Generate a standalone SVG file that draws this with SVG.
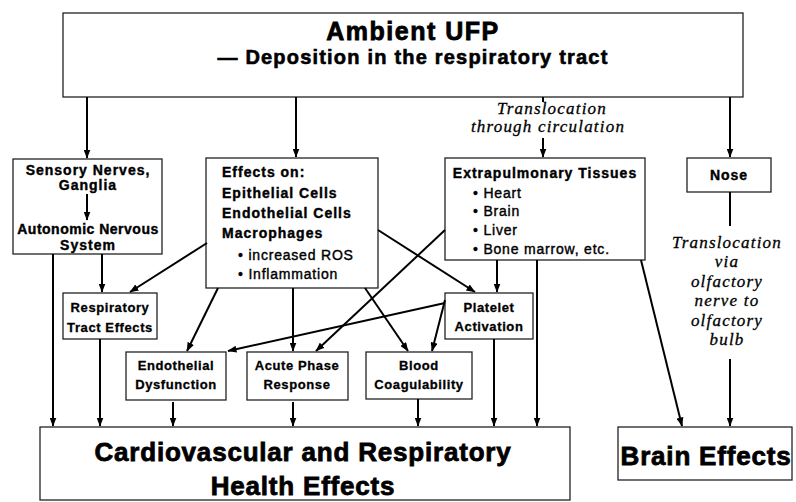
<svg xmlns="http://www.w3.org/2000/svg" width="796" height="502" viewBox="0 0 796 502">
<defs>
<marker id="ah" markerWidth="9" markerHeight="7" refX="8.5" refY="3.5" orient="auto" markerUnits="userSpaceOnUse"><path d="M0,0 L9,3.5 L0,7 z" fill="#000"/></marker>
</defs>
<style>
.box{fill:#fff;stroke:#222;stroke-width:1.3}
.c{stroke:#000;stroke-width:2;fill:none}
.a{marker-end:url(#ah)}
text{font-family:"Liberation Sans",Arial,sans-serif;fill:#000}
.h1{font-size:25px;font-weight:bold;letter-spacing:1.5px;stroke:#000;stroke-width:0.8}
.h2{font-size:20px;font-weight:bold;letter-spacing:1.2px;stroke:#000;stroke-width:0.6}
.m{font-size:14px;font-weight:bold;letter-spacing:1px;stroke:#000;stroke-width:0.4}
.s{font-size:13px;font-weight:bold;letter-spacing:0.6px;stroke:#000;stroke-width:0.3}
.bl{font-size:14px;letter-spacing:0.8px;stroke:#000;stroke-width:0.4}
.big{font-size:26px;font-weight:bold;letter-spacing:0.8px;stroke:#000;stroke-width:0.8}
.it{font-family:"Liberation Serif",serif;font-style:italic;font-size:17px;letter-spacing:1.2px;stroke:#000;stroke-width:0.3}
.mid{text-anchor:middle}
</style>
<rect width="796" height="502" fill="#fff"/>

<g id="ambient-ufp">
<rect class="box" x="63" y="13" width="680" height="84"/>
<text class="h1 mid" x="413" y="40">Ambient UFP</text>
<text class="h2 mid" x="413" y="64">— Deposition in the respiratory tract</text>
</g>

<g id="sensory-nerves">
<rect class="box" x="13" y="159" width="149" height="95"/>
<text class="m mid" x="88" y="175">Sensory Nerves,</text>
<text class="m mid" x="88" y="190">Ganglia</text>
<text class="m mid" x="88" y="234" style="letter-spacing:0.5px">Autonomic Nervous</text>
<text class="m mid" x="88" y="250">System</text>
</g>

<g id="effects-on">
<rect class="box" x="206" y="158" width="172" height="130"/>
<text class="m" x="222" y="177">Effects on:</text>
<text class="m" x="222" y="198">Epithelial Cells</text>
<text class="m" x="222" y="218">Endothelial Cells</text>
<text class="m" x="222" y="238">Macrophages</text>
<text class="bl" x="238" y="260">• increased ROS</text>
<text class="bl" x="238" y="279">• Inflammation</text>
</g>

<g id="extrapulmonary">
<rect class="box" x="445" y="158" width="200" height="102"/>
<text class="m mid" x="545" y="178">Extrapulmonary Tissues</text>
<text class="bl" x="473" y="198">• Heart</text>
<text class="bl" x="473" y="216">• Brain</text>
<text class="bl" x="473" y="235">• Liver</text>
<text class="bl" x="473" y="254">• Bone marrow, etc.</text>
</g>

<g id="nose">
<rect class="box" x="687" y="158" width="84" height="34"/>
<text class="m mid" x="729" y="180">Nose</text>
</g>

<g id="olfactory-label">
<text class="it mid" x="727" y="248">Translocation</text>
<text class="it mid" x="727" y="267">via</text>
<text class="it mid" x="727" y="287">olfactory</text>
<text class="it mid" x="727" y="306">nerve to</text>
<text class="it mid" x="727" y="326">olfactory</text>
<text class="it mid" x="727" y="345">bulb</text>
</g>

<g id="circulation-label">
<text class="it mid" x="552" y="114">Translocation</text>
<text class="it mid" x="548" y="132">through circulation</text>
</g>

<g id="respiratory-tract">
<rect class="box" x="63" y="293" width="94" height="46"/>
<text class="s mid" x="110" y="312">Respiratory</text>
<text class="s mid" x="110" y="332">Tract Effects</text>
</g>

<g id="platelet">
<rect class="box" x="445" y="293" width="88" height="46"/>
<text class="s mid" x="489" y="312">Platelet</text>
<text class="s mid" x="489" y="331">Activation</text>
</g>

<g id="endothelial">
<rect class="box" x="126" y="352" width="100" height="48"/>
<text class="s mid" x="176" y="370">Endothelial</text>
<text class="s mid" x="176" y="389">Dysfunction</text>
</g>

<g id="acute-phase">
<rect class="box" x="247" y="352" width="101" height="48"/>
<text class="s mid" x="297" y="370">Acute Phase</text>
<text class="s mid" x="297" y="389">Response</text>
</g>

<g id="blood">
<rect class="box" x="366" y="352" width="106" height="47"/>
<text class="s mid" x="419" y="370">Blood</text>
<text class="s mid" x="419" y="389">Coagulability</text>
</g>

<g id="cardio">
<rect class="box" x="40" y="427" width="530" height="73"/>
<text class="big mid" x="303" y="461">Cardiovascular and Respiratory</text>
<text class="big mid" x="303" y="495">Health Effects</text>
</g>

<g id="brain-effects">
<rect class="box" x="618" y="427" width="174" height="53"/>
<text class="big mid" x="706" y="465">Brain Effects</text>
</g>

<g id="connectors">
<line class="c a" x1="87" y1="97" x2="87" y2="158"/>
<line class="c a" x1="296" y1="97" x2="296" y2="157"/>
<line class="c" x1="543" y1="97" x2="543" y2="102"/>
<line class="c a" x1="543" y1="138" x2="543" y2="157"/>
<line class="c a" x1="730" y1="97" x2="730" y2="157"/>
<line class="c a" x1="87" y1="194" x2="87" y2="220"/>
<line class="c a" x1="53" y1="254" x2="53" y2="426"/>
<line class="c a" x1="102" y1="254" x2="102" y2="292"/>
<line class="c a" x1="100" y1="339" x2="100" y2="426"/>
<line class="c a" x1="207" y1="243" x2="130" y2="292"/>
<line class="c a" x1="218" y1="288" x2="187" y2="351"/>
<line class="c a" x1="293" y1="288" x2="293" y2="351"/>
<line class="c a" x1="365" y1="288" x2="408" y2="351"/>
<line class="c a" x1="378" y1="230" x2="475" y2="292"/>
<line class="c a" x1="445" y1="230" x2="316" y2="351"/>
<line class="c a" x1="445" y1="303" x2="228" y2="351"/>
<line class="c a" x1="445" y1="300" x2="432" y2="351"/>
<line class="c a" x1="497" y1="260" x2="497" y2="292"/>
<line class="c a" x1="494" y1="339" x2="494" y2="426"/>
<line class="c a" x1="537" y1="260" x2="537" y2="426"/>
<line class="c a" x1="641" y1="260" x2="682" y2="426"/>
<line class="c a" x1="173" y1="402" x2="173" y2="426"/>
<line class="c a" x1="293" y1="402" x2="293" y2="426"/>
<line class="c a" x1="418" y1="399" x2="418" y2="426"/>
<line class="c" x1="730" y1="192" x2="730" y2="226"/>
<line class="c a" x1="730" y1="359" x2="730" y2="426"/>
</g>
</svg>
